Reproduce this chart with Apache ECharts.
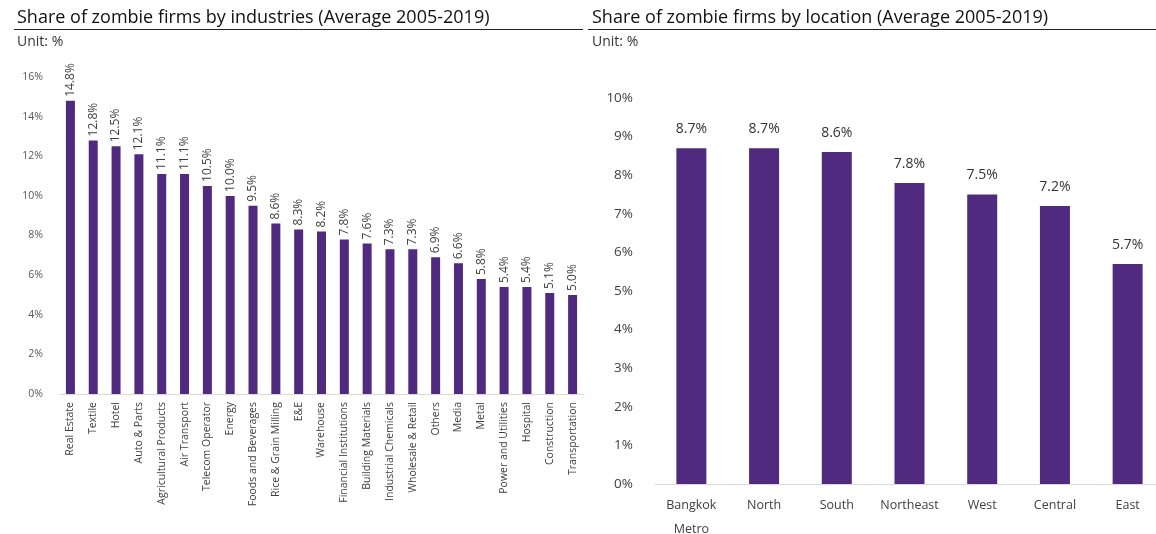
<!DOCTYPE html>
<html>
<head>
<meta charset="utf-8">
<script src="https://cdn.jsdelivr.net/npm/echarts@6/dist/echarts.min.js"></script>
<style>
  html, body { margin: 0; padding: 0; background: #fff; }
  #chart { width: 1156px; height: 534px; }
</style>
</head>
<body>
<div id="chart"></div>
<script>
// Zombie-firm shares by industry (left panel)
const industries = [
  'Real Estate', 'Textile', 'Hotel', 'Auto & Parts', 'Agricultural Products',
  'Air Transport', 'Telecom Operator', 'Energy', 'Foods and Beverages',
  'Rice & Grain Milling', 'E&E', 'Warehouse', 'Financial Institutions',
  'Building Materials', 'Industrial Chemicals', 'Wholesale & Retail', 'Others',
  'Media', 'Metal', 'Power and Utilities', 'Hospital', 'Construction', 'Transportation'
];
const industryShare = [
  14.8, 12.8, 12.5, 12.1, 11.1, 11.1, 10.5, 10.0, 9.5, 8.6, 8.3, 8.2,
  7.8, 7.6, 7.3, 7.3, 6.9, 6.6, 5.8, 5.4, 5.4, 5.1, 5.0
];

// Zombie-firm shares by location (right panel)
const locations = ['Bangkok\nMetro', 'North', 'South', 'Northeast', 'West', 'Central', 'East'];
const locationShare = [8.7, 8.7, 8.6, 7.8, 7.5, 7.2, 5.7];

const titles = [
  'Share of zombie firms by industries (Average 2005-2019)',
  'Share of zombie firms by location (Average 2005-2019)'
];
const unitLabel = 'Unit: %';

const FONT = '"Open Sans", "Noto Sans", sans-serif';
const BAR = '#4f2a7e';
const TEXT = '#404040';

const chart = echarts.init(document.getElementById('chart'), null, { renderer: 'canvas' });

chart.setOption({
  animation: false,
  backgroundColor: '#fff',
  textStyle: { fontFamily: FONT },
  title: [
    { text: titles[0], left: 12, top: 4,
      textStyle: { fontFamily: FONT, fontSize: 18, fontWeight: 500, color: '#111' } },
    { text: unitLabel, left: 12, top: 30,
      textStyle: { fontFamily: FONT, fontSize: 14, fontWeight: 'normal', color: '#333' } },
    { text: titles[1], left: 587, top: 4,
      textStyle: { fontFamily: FONT, fontSize: 18, fontWeight: 500, color: '#111' } },
    { text: unitLabel, left: 587, top: 30,
      textStyle: { fontFamily: FONT, fontSize: 14, fontWeight: 'normal', color: '#333' } }
  ],
  graphic: [
    { type: 'line', shape: { x1: 14, y1: 29.5, x2: 583, y2: 29.5 },
      style: { stroke: '#222', lineWidth: 1 } },
    { type: 'line', shape: { x1: 588, y1: 29.5, x2: 1156, y2: 29.5 },
      style: { stroke: '#222', lineWidth: 1 } }
  ],
  grid: [
    { left: 59, width: 525, top: 77, bottom: 140, outerBoundsMode: 'none' },
    { left: 655, width: 509, top: 98, bottom: 50, outerBoundsMode: 'none' }
  ],
  xAxis: [
    {
      type: 'category', gridIndex: 0, data: industries,
      axisLine: { lineStyle: { color: '#d9d9d9', width: 1 } },
      axisTick: { show: false },
      axisLabel: { rotate: 90, interval: 0, margin: 8, fontSize: 10.5, color: TEXT, fontFamily: FONT }
    },
    {
      type: 'category', gridIndex: 1, data: locations,
      axisLine: { lineStyle: { color: '#d9d9d9', width: 1 } },
      axisTick: { show: false },
      axisLabel: { interval: 0, margin: 9, fontSize: 12.5, lineHeight: 24, color: TEXT, fontFamily: FONT }
    }
  ],
  yAxis: [
    {
      type: 'value', gridIndex: 0, min: 0, max: 16, interval: 2,
      splitLine: { show: false }, axisLine: { show: false }, axisTick: { show: false },
      axisLabel: { formatter: '{value}%', fontSize: 10.5, color: '#595959', margin: 16, fontFamily: FONT }
    },
    {
      type: 'value', gridIndex: 1, min: 0, max: 10, interval: 1,
      splitLine: { show: false }, axisLine: { show: false }, axisTick: { show: false },
      axisLabel: { formatter: '{value}%', fontSize: 13.5, color: '#404040', margin: 22, fontFamily: FONT }
    }
  ],
  series: [
    {
      type: 'bar', xAxisIndex: 0, yAxisIndex: 0, data: industryShare,
      barWidth: 9,
      itemStyle: { color: BAR },
      label: {
        show: true, position: 'top', rotate: 90, align: 'left', verticalAlign: 'middle',
        distance: 4, fontSize: 12, color: TEXT, fontFamily: FONT,
        formatter: p => p.value.toFixed(1) + '%'
      }
    },
    {
      type: 'bar', xAxisIndex: 1, yAxisIndex: 1, data: locationShare,
      barWidth: 30,
      itemStyle: { color: BAR },
      label: {
        show: true, position: 'top', distance: 12, fontSize: 14, color: '#333', fontFamily: FONT,
        formatter: p => p.value.toFixed(1) + '%'
      }
    }
  ]
});
</script>
</body>
</html>
